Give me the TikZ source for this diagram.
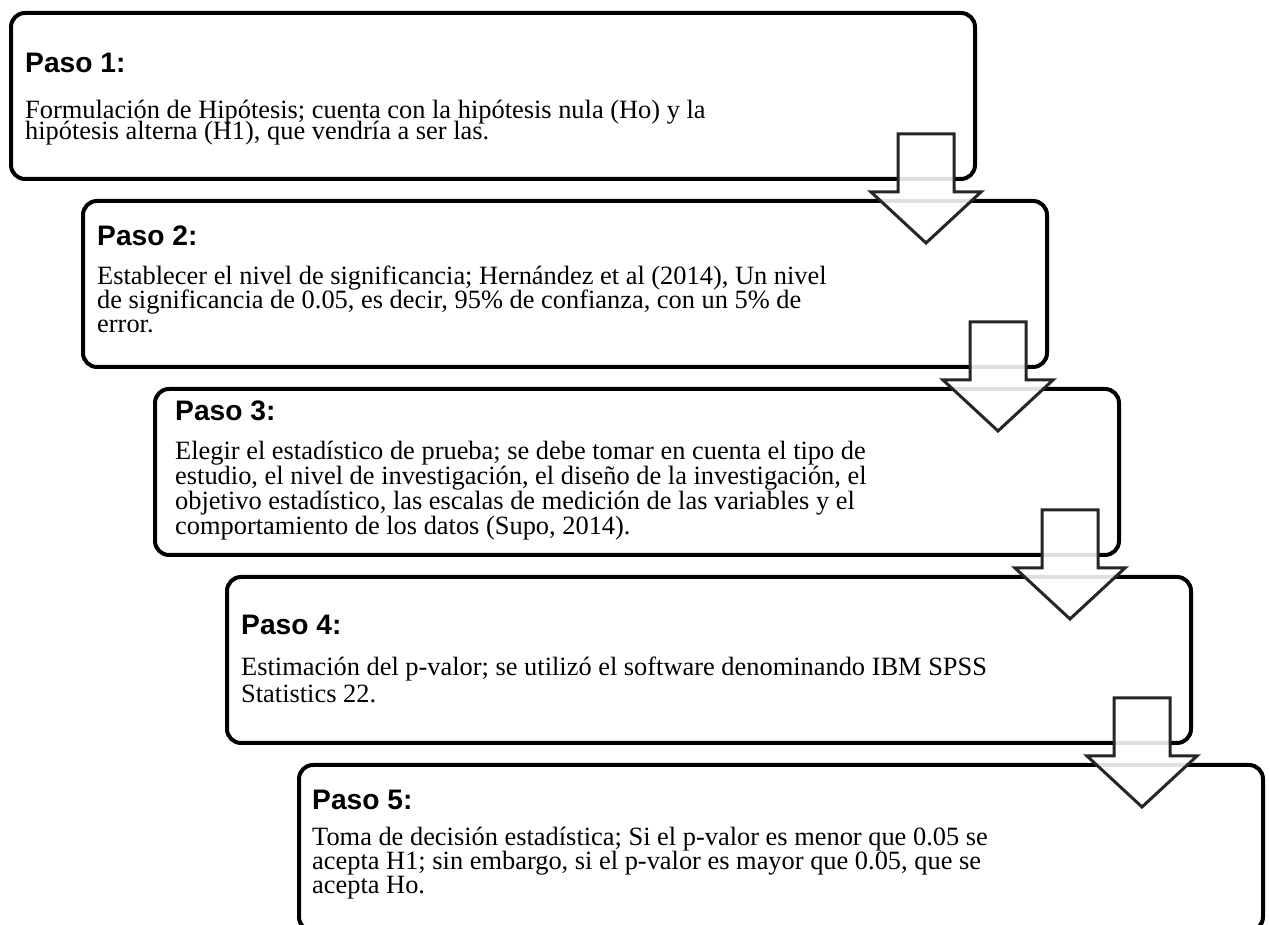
\documentclass[tikz,border=0pt]{standalone}
\usepackage{fontspec}
\setmainfont{Liberation Serif}
\setsansfont{Liberation Sans}
\usepackage{tikz}
\usetikzlibrary{positioning, calc}

% block arrow hanging from the lower right corner of a box
\newcommand{\bajada}[1]{%
  \draw[flecha] ($(#1.south east)+(-77,45)$) -- ++(56,0) -- ++(0,-58) -- ++(27,0)
    -- ++(-55,-51) -- ++(-55,51) -- ++(27,0) -- cycle;}

\begin{document}
\begin{tikzpicture}[
  x=1pt, y=1pt,
  caja/.style={draw, line width=4pt, rounded corners=14pt, fill=white,
               minimum width=964pt, minimum height=166pt, inner sep=0pt, outer sep=0pt},
  paso/.style={font=\sffamily\bfseries\fontsize{28.2}{30}\selectfont, inner sep=0pt,
               anchor=base west},
  cuerpo/.style={font={\fontsize{26.4}{#1}\selectfont\lineskiplimit=-50pt}, align=left,
                 inner sep=0pt, anchor=north west},
  flecha/.style={draw=black!85, line width=3pt, fill=white, fill opacity=0.88,
                 line join=miter}
]
  \useasboundingbox (0,0) rectangle (1270,925);

  \node[caja, anchor=north west] (p1) at (11,912) {};
  \node[caja, below right=22pt and 72pt of p1.south west] (p2) {};
  \node[caja, below right=22pt and 72pt of p2.south west] (p3) {};
  \node[caja, below right=22pt and 72pt of p3.south west] (p4) {};
  \node[caja, below right=22pt and 72pt of p4.south west] (p5) {};

  \node[paso] (t1) at ($(p1.north west)+(14,-60)$) {Paso 1:};
  \node[cuerpo=21] (c1) at ($(p1.north west)+(14,-85)$)
    {\rule{0pt}{20pt}Formulación de Hipótesis; cuenta con la hipótesis nula (Ho) y la\\
     hipótesis alterna (H1), que vendría a ser las.};

  \node[paso] (t2) at ($(p2.north west)+(14,-45)$) {Paso 2:};
  \node[cuerpo=24] (c2) at ($(p2.north west)+(14,-63)$)
    {\rule{0pt}{20pt}Establecer el nivel de significancia; Hernández et al (2014), Un nivel\\
     de significancia de 0.05, es decir, 95\% de confianza, con un 5\% de\\
     error.};

  \node[paso] (t3) at ($(p3.north west)+(20,-32)$) {Paso 3:};
  \node[cuerpo=25] (c3) at ($(p3.north west)+(20,-50)$)
    {\rule{0pt}{20pt}Elegir el estadístico de prueba; se debe tomar en cuenta el tipo de\\
     estudio, el nivel de investigación, el diseño de la investigación, el\\
     objetivo estadístico, las escalas de medición de las variables y el\\
     comportamiento de los datos (Supo, 2014).};

  \node[paso] (t4) at ($(p4.north west)+(14,-58)$) {Paso 4:};
  \node[cuerpo=27] (c4) at ($(p4.north west)+(14,-78)$)
    {\rule{0pt}{20pt}Estimación del p-valor; se utilizó el software denominando IBM SPSS\\
     Statistics 22.};

  \node[paso] (t5) at ($(p5.north west)+(13,-45)$) {Paso 5:};
  \node[cuerpo=24] (c5) at ($(p5.north west)+(13,-60)$)
    {\rule{0pt}{20pt}Toma de decisión estadística; Si el p-valor es menor que 0.05 se\\
     acepta H1; sin embargo, si el p-valor es mayor que 0.05, que se\\
     acepta Ho.};

  \bajada{p1}
  \bajada{p2}
  \bajada{p3}
  \bajada{p4}
\end{tikzpicture}
\end{document}
